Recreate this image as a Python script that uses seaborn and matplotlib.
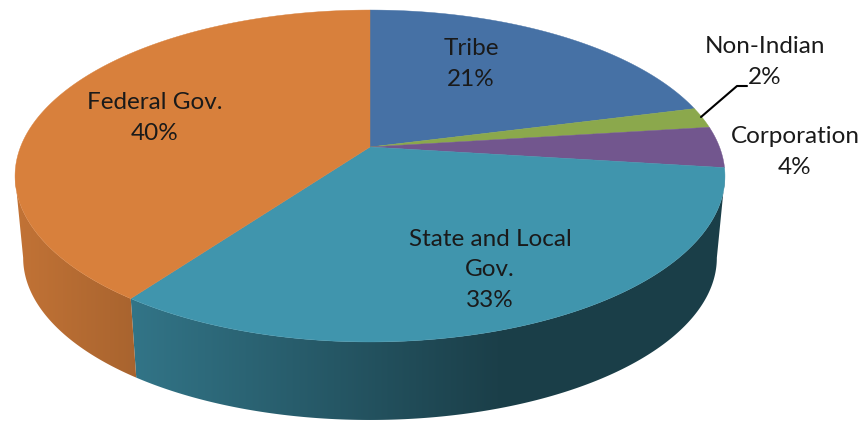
import numpy as np
import seaborn as sns
import matplotlib.pyplot as plt
from matplotlib.patches import Polygon

# slice data, clockwise from 12 o'clock
categories = ["Tribe", "Non-Indian", "Corporation", "State and Local\nGov.", "Federal Gov."]
shares = [21, 2, 4, 33, 40]
slice_colors = ["#4671a5", "#8ba84c", "#72568e", "#4095ad", "#d8803c"]

# label layout (pixel positions of the label blocks)
label_pos = [(471, 64), (765, 62), (795, 152), (490, 270), (155, 118)]

sns.set_theme(style="white")
plt.rcParams["font.family"] = ["Lato", "DejaVu Sans"]

W, H = 864, 425
fig = plt.figure(figsize=(W / 100, H / 100), dpi=100)
ax = fig.add_axes([0, 0, 1, 1])
ax.set_xlim(0, W)
ax.set_ylim(H, 0)
ax.axis("off")

# perspective ellipse for the top face and the bottom face
K = 0.1747
TOP = dict(cx=370, cy=147, a=349.5, b=160.9)
BOT = dict(cx=370, cy=229.5, a=341.5, b=157.2)


def project(phi, cx, cy, a, b):
    s = 1.0 / (1.0 + K * np.cos(phi))
    return cx + a * np.sin(phi) * s, cy - b * np.cos(phi) * s


def shade(x):
    return 0.42 + 0.48 * np.clip((500 - x) / 486, 0, 1)


fracs = np.array(shares, dtype=float) / sum(shares)
edges = np.concatenate([[0], np.cumsum(fracs)]) * 2 * np.pi
vis_lo, vis_hi = np.arccos(-K), 2 * np.pi - np.arccos(-K)
xs = np.arange(W) + 0.5

# side walls with a horizontal gradient
for i, col in enumerate(slice_colors):
    lo, hi = max(edges[i], vis_lo), min(edges[i + 1], vis_hi)
    if hi <= lo:
        continue
    t = np.linspace(lo, hi, 200)
    tx, ty = project(t, **TOP)
    bx, by = project(t[::-1], **BOT)
    pts = np.column_stack([np.concatenate([tx, bx]), np.concatenate([ty, by])])
    patch = Polygon(pts, closed=True, facecolor="none", edgecolor="none", transform=ax.transData)
    ax.add_patch(patch)
    base = np.array(sns.color_palette([col])[0])
    grad = (base[None, :] * shade(xs)[:, None])[None, :, :]
    im = ax.imshow(grad, extent=[0, W, H, 0], aspect="auto", interpolation="bilinear", zorder=1)
    im.set_clip_path(patch)

# top faces
for i, col in enumerate(slice_colors):
    t = np.linspace(edges[i], edges[i + 1], 200)
    px, py = project(t, **TOP)
    pts = np.column_stack([np.concatenate([[TOP["cx"]], px]), np.concatenate([[TOP["cy"]], py])])
    ax.add_patch(Polygon(pts, closed=True, facecolor=col, edgecolor=col, lw=0.3, zorder=2))

# labels
for name, share, (lx, ly) in zip(categories, shares, label_pos):
    ax.text(lx, ly, f"{name}\n{share}%", ha="center", va="center", fontsize=17.5,
            color="#1a1a1a", linespacing=1.55, zorder=3)

# leader line for the small slice
ax.plot([701, 737, 747], [117, 86, 86], color="black", lw=1.5, zorder=3)

fig.savefig("out.png", dpi=100)
